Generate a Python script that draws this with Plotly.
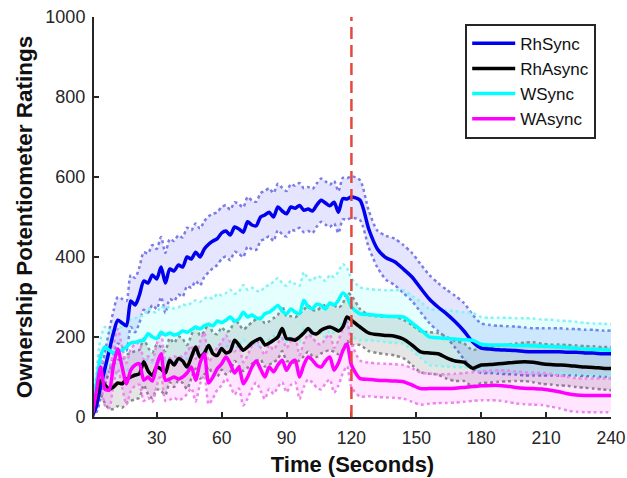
import plotly.graph_objects as go

# ---------------- data ----------------
time_pre = list(range(0, 121, 2))        # 0..120 s, 2 s steps
time_post = list(range(124, 241, 4))     # 124..240 s, 4 s steps
time = time_pre + time_post

rh_sync_mean = [
    0, 25, 75, 120, 165, 210, 242, 235, 228, 290,
    280, 305, 340, 335, 355, 345, 375, 335, 370, 365,
    380, 375, 400, 395, 412, 400, 420, 432, 440, 446,
    460, 465, 455, 475, 470, 462, 488, 480, 478, 500,
    505, 512, 500, 525, 515, 508, 525, 522, 529, 517,
    520, 515, 530, 542, 535, 528, 537, 512, 546, 545,
    550,
    542, 470, 420, 398, 388, 370, 350, 322, 295, 275,
    258, 238, 215, 188, 172, 170, 168, 167, 166, 164,
    163, 163, 163, 163, 162, 162, 160, 160, 158, 158]
rh_sync_sem = [
    0, 15, 30, 40, 50, 55, 58, 60, 62, 65,
    68, 70, 72, 74, 75, 75, 75, 75, 75, 75,
    74, 74, 73, 72, 72, 71, 70, 70, 68, 66,
    65, 64, 63, 62, 62, 62, 62, 61, 60, 60,
    60, 60, 60, 58, 58, 57, 57, 56, 56, 55,
    55, 55, 54, 54, 54, 53, 53, 52, 52, 52,
    52,
    50, 46, 46, 55, 58, 60, 60, 60, 60, 60,
    60, 65, 70, 68, 62, 60, 60, 60, 60, 60,
    59, 59, 59, 59, 58, 58, 58, 58, 58, 58]

rh_async_mean = [
    0, 50, 90, 80, 70, 75, 85, 83, 95, 100,
    105, 108, 138, 115, 104, 125, 120, 110, 142, 130,
    146, 140, 125, 150, 175, 150, 160, 179, 158, 154,
    171, 160, 165, 192, 180, 167, 175, 185, 192, 196,
    180, 185, 192, 200, 221, 196, 195, 192, 200, 210,
    221, 210, 208, 217, 222, 225, 221, 215, 225, 250,
    242,
    225, 210, 206, 204, 202, 195, 180, 163, 160, 158,
    148, 140, 137, 122, 130, 131, 133, 135, 137, 138,
    137, 133, 131, 130, 129, 127, 125, 124, 122, 121]
rh_async_sem = [
    0, 20, 35, 45, 50, 55, 58, 60, 60, 60,
    60, 60, 58, 58, 57, 56, 55, 55, 55, 55,
    55, 55, 55, 54, 54, 54, 54, 54, 53, 53,
    53, 53, 52, 52, 52, 52, 52, 52, 52, 52,
    54, 54, 55, 55, 56, 56, 57, 57, 58, 58,
    58, 58, 58, 58, 58, 58, 58, 58, 58, 60,
    62,
    45, 45, 46, 47, 48, 48, 50, 51, 52, 52,
    52, 50, 47, 45, 45, 45, 45, 46, 47, 48,
    50, 50, 50, 51, 51, 52, 52, 53, 53, 54]

w_sync_mean = [
    0, 80, 150, 175, 167, 160, 165, 167, 175, 185,
    187, 190, 192, 208, 200, 196, 212, 205, 210, 205,
    208, 215, 212, 218, 225, 220, 228, 232, 228, 240,
    236, 242, 250, 240, 245, 262, 250, 255, 248, 246,
    258, 262, 270, 279, 265, 258, 270, 262, 258, 292,
    275, 271, 282, 279, 270, 285, 280, 292, 310, 300,
    275,
    258, 256, 254, 252, 251, 250, 235, 218, 200, 198,
    196, 195, 193, 192, 182, 180, 180, 180, 179, 179,
    178, 177, 176, 175, 174, 172, 170, 169, 168, 167]
w_sync_sem = [
    0, 30, 45, 50, 52, 55, 56, 58, 60, 60,
    60, 62, 62, 63, 64, 65, 65, 66, 66, 66,
    66, 66, 67, 67, 67, 68, 68, 68, 68, 68,
    68, 68, 68, 68, 68, 68, 68, 68, 68, 68,
    68, 68, 68, 68, 70, 70, 70, 70, 70, 70,
    70, 70, 70, 70, 70, 70, 70, 72, 72, 72,
    72,
    66, 64, 64, 65, 66, 67, 68, 70, 70, 70,
    70, 70, 69, 68, 68, 68, 68, 68, 68, 68,
    68, 67, 67, 66, 66, 66, 65, 65, 65, 65]

w_async_mean = [
    0, 60, 125, 70, 67, 130, 170, 125, 83, 117,
    130, 133, 92, 100, 90, 130, 158, 92, 95, 100,
    95, 100, 110, 125, 92, 135, 158, 85, 100, 121,
    133, 150, 133, 110, 125, 83, 100, 125, 140, 120,
    100, 125, 113, 130, 142, 117, 135, 142, 100, 130,
    150, 142, 129, 125, 140, 150, 117, 135, 165, 183,
    130,
    96, 94, 92, 91, 90, 88, 80, 71, 71, 71,
    71, 72, 74, 76, 78, 79, 79, 77, 74, 72,
    71, 70, 67, 63, 58, 55, 54, 54, 54, 54]
w_async_sem = [
    0, 25, 35, 40, 45, 48, 50, 50, 52, 52,
    52, 52, 52, 52, 52, 52, 52, 52, 52, 52,
    53, 53, 53, 53, 53, 53, 53, 53, 53, 53,
    54, 54, 54, 54, 54, 54, 54, 54, 54, 54,
    55, 55, 55, 55, 55, 55, 55, 55, 55, 55,
    56, 56, 56, 56, 56, 56, 56, 56, 56, 56,
    56,
    45, 42, 42, 42, 42, 42, 42, 40, 38, 36,
    36, 36, 36, 36, 36, 37, 38, 39, 40, 40,
    40, 40, 41, 41, 42, 42, 42, 42, 42, 42]

series_names = ["RhSync", "RhAsync", "WSync", "WAsync"]
event_time = 120
x_ticks = [30, 60, 90, 120, 150, 180, 210, 240]
y_ticks = [0, 200, 400, 600, 800, 1000]

# ---------------- styles ----------------
styles = [
    dict(line="#0000EE", bound="#7C7CE6", fill="rgba(0,0,255,0.10)"),
    dict(line="#000000", bound="#8A8A8A", fill="rgba(0,0,0,0.10)"),
    dict(line="#00FFFF", bound="#86F2F2", fill="rgba(0,255,255,0.10)"),
    dict(line="#FF00FF", bound="#EE86EE", fill="rgba(255,0,255,0.10)"),
]
means = [rh_sync_mean, rh_async_mean, w_sync_mean, w_async_mean]
sems = [rh_sync_sem, rh_async_sem, w_sync_sem, w_async_sem]

fig = go.Figure()
for name, m, s, st in zip(series_names, means, sems, styles):
    lower = [a - b for a, b in zip(m, s)]
    upper = [a + b for a, b in zip(m, s)]
    fig.add_trace(go.Scatter(x=time, y=lower, mode="lines", showlegend=False,
                             line=dict(color=st["bound"], width=2.5, dash="dot",
                                       shape="spline", smoothing=0.7),
                             hoverinfo="skip"))
    fig.add_trace(go.Scatter(x=time, y=upper, mode="lines", showlegend=False,
                             fill="tonexty", fillcolor=st["fill"],
                             line=dict(color=st["bound"], width=2.5, dash="dot",
                                       shape="spline", smoothing=0.7),
                             hoverinfo="skip"))

for name, m, st in zip(series_names, means, styles):
    fig.add_trace(go.Scatter(x=time, y=m, mode="lines", name=name,
                             line=dict(color=st["line"], width=3.5,
                                       shape="spline", smoothing=0.7)))

fig.add_shape(type="line", xref="x", yref="y", x0=event_time, x1=event_time,
              y0=0, y1=1000, line=dict(color="#E8473C", width=2.5, dash="12px,6px"),
              layer="above")

axis_col = "#262626"
font_family = "Liberation Sans, Arial, sans-serif"
fig.update_layout(
    width=627, height=478,
    margin=dict(l=94, r=16, t=17, b=61),
    paper_bgcolor="white", plot_bgcolor="white",
    font=dict(family=font_family, color=axis_col),
    showlegend=True,
    legend=dict(x=0.718, y=0.983, xanchor="left", yanchor="top",
                bgcolor="white", bordercolor=axis_col, borderwidth=2,
                font=dict(size=17, color="#111111"),
                traceorder="normal", itemwidth=43,
                tracegroupgap=0),
    xaxis=dict(range=[1, 240], tickvals=x_ticks,
               showgrid=False, zeroline=False,
               showline=True, linecolor=axis_col, linewidth=2, automargin=False,
               ticks="inside", ticklen=5, tickwidth=2, tickcolor=axis_col,
               tickfont=dict(size=17.5, color=axis_col), ticklabelstandoff=4,
               ticklabeloverflow="allow",
               title=dict(text="<b>Time (Seconds)</b>", font=dict(size=22, color="#111111"),
                          standoff=10)),
    yaxis=dict(range=[0, 1000], tickvals=y_ticks, showgrid=False, zeroline=False,
               showline=True, linecolor=axis_col, linewidth=2, automargin=False,
               ticks="inside", ticklen=5, tickwidth=2, tickcolor=axis_col,
               tickfont=dict(size=18, color=axis_col), ticklabelstandoff=3,
               ticklabeloverflow="allow",
               title=dict(text="<b>Ownership Potentiometer Ratings</b>",
                          font=dict(size=22.5, color="#111111"), standoff=6)),
)

fig.write_html("out.html",
               config={"displayModeBar": False},
               post_script="document.body.style.margin='0';document.body.style.overflow='hidden';")
